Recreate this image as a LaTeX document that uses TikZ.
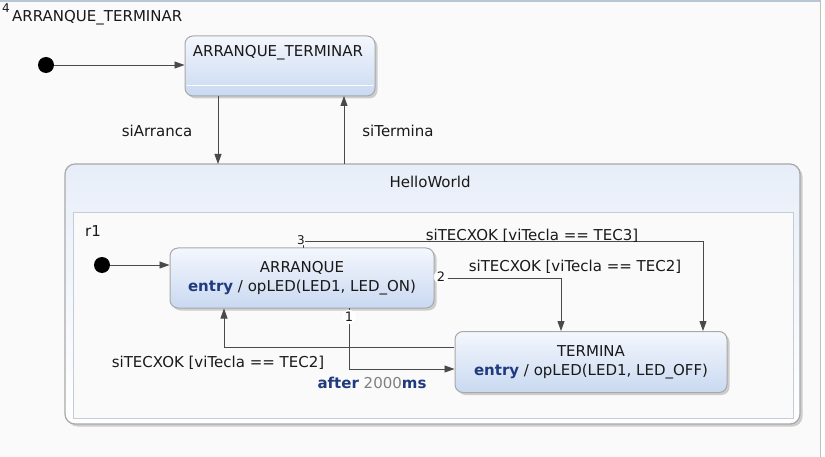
\documentclass[tikz,border=0pt]{standalone}
\usepackage{fontspec}
\setmainfont{DejaVu Sans}
\usetikzlibrary{arrows.meta,shadows}
\definecolor{bg}{HTML}{FAFAFA}
\definecolor{frameblue}{HTML}{B8C6D6}
\definecolor{boxtop}{HTML}{F4F7FD}
\definecolor{boxbot}{HTML}{C9D9F1}
\definecolor{boxdraw}{HTML}{A8A8A8}
\definecolor{arr}{HTML}{4A4A4A}
\definecolor{kw}{HTML}{1F3A7E}
\definecolor{numgray}{HTML}{808080}
\definecolor{regdraw}{HTML}{C4CCD8}
\definecolor{hwtop}{HTML}{E8EEF9}
\begin{document}
\begin{tikzpicture}[x=1pt,y=-1pt,
  every node/.style={font=\fontsize{15}{18}\selectfont, text=black!90},
  statebox/.style={draw=boxdraw, line width=1pt, rounded corners=8pt,
     top color=boxtop, bottom color=boxbot, inner sep=0pt,
     drop shadow={shadow xshift=2.5pt, shadow yshift=-2.5pt, opacity=0.3, fill=black!60}},
  initdot/.style={circle, fill=black, inner sep=0pt, minimum size=16pt},
  tr/.style={draw=arr, line width=0.9pt, -{Triangle[length=10pt,width=7pt]}},
  numc/.style={circle, fill=white, inner sep=0.5pt, minimum size=14pt, font=\fontsize{13}{14}\selectfont},
  lbl/.style={inner sep=0pt}
]
\useasboundingbox (0,0) rectangle (825,457);
\fill[white] (0,0) rectangle (825,457);
\fill[bg] (0,2) rectangle (820,457);
\draw[frameblue, line width=1.5pt] (0,1) -- (821,1);
\draw[black!25, line width=1pt] (820.5,1) -- (820.5,457);

% top level
\node[lbl, font=\fontsize{12}{13}\selectfont] (num4) at (6,8) {4};
\node[lbl, anchor=west] (toptitle) at (12,18) {ARRANQUE\_TERMINAR};
\node[initdot] (init0) at (46,65) {};
\node[statebox, minimum width=190pt, minimum height=60pt] (at) at (280,66) {};
\draw[white, line width=1pt] (187,85.5) -- (373,85.5);
\node[lbl] (attitle) at (278,53) {ARRANQUE\_TERMINAR};
\draw[tr] (init0) -- (at.west |- init0);

% HelloWorld composite
\node[draw=boxdraw, line width=1.2pt, rounded corners=10pt, top color=hwtop, bottom color=white,
      minimum width=735pt, minimum height=260pt, inner sep=0pt,
      drop shadow={shadow xshift=2.5pt, shadow yshift=-2.5pt, opacity=0.3, fill=black!60}] (hw) at (432.5,294) {};
\node[lbl] (hwtitle) at (430,182) {HelloWorld};
\node[draw=regdraw, line width=1pt, fill=bg, minimum width=720pt, minimum height=205pt, inner sep=0pt] (r1) at (433,315.5) {};
\node[lbl] (r1title) at (93,231) {r1};

\coordinate (arrA) at (218,96);
\coordinate (arrB) at (218,164);
\coordinate (terA) at (344,164);
\coordinate (terB) at (344,96);
\draw[tr] (arrA) -- (arrB);
\draw[tr] (terA) -- (terB);
\node[lbl] (lblArr) at (157,131) {siArranca};
\node[lbl] (lblTer) at (398,131) {siTermina};

% inner states
\node[initdot] (init1) at (102,265) {};
\node[statebox, minimum width=264pt, minimum height=60pt, align=center] (arr) at (302,278)
  {ARRANQUE\\[1pt]\textcolor{kw}{\textbf{entry}} / opLED(LED1, LED\_ON)};
\node[statebox, minimum width=272pt, minimum height=61pt, align=center] (ter) at (591,362)
  {TERMINA\\[1pt]\textcolor{kw}{\textbf{entry}} / opLED(LED1, LED\_OFF)};
\draw[tr] (init1) -- (arr.west |- init1);

% transition 3
\coordinate (t3a) at (303,248);
\coordinate (t3b) at (303,241);
\coordinate (t3c) at (703,241);
\draw[tr] (t3a) -- (t3b) -- (t3c) -- (ter.north -| t3c);
\node[lbl, fill=bg, inner sep=0.5pt, font=\fontsize{12}{13}\selectfont] (n3) at (301,240) {3};
\node[lbl] (lbl3) at (532,236) {siTECXOK [viTecla == TEC3]};

% transition 2
\coordinate (t2a) at (434,278);
\coordinate (t2b) at (561,278);
\draw[tr] (t2a) -- (t2b) -- (ter.north -| t2b);
\node[numc] (n2) at (441,277) {2};
\node[lbl] (lbl2) at (575,267) {siTECXOK [viTecla == TEC2]};

% transition 1
\coordinate (t1a) at (349,308);
\coordinate (t1b) at (349,369);
\draw[tr] (t1a) -- (t1b) -- (ter.west |- t1b);
\node[numc] (n1) at (349,317) {1};
\node[lbl] (lbl1) at (372,383) {\textcolor{kw}{\textbf{after}} \textcolor{numgray}{2000}\textcolor{kw}{\textbf{ms}}};

% return transition
\coordinate (rta) at (454,347);
\coordinate (rtb) at (224,347);
\draw[tr] (rta) -- (rtb) -- (arr.south -| rtb);
\node[lbl] (lblr) at (218,363) {siTECXOK [viTecla == TEC2]};
\end{tikzpicture}
\end{document}
